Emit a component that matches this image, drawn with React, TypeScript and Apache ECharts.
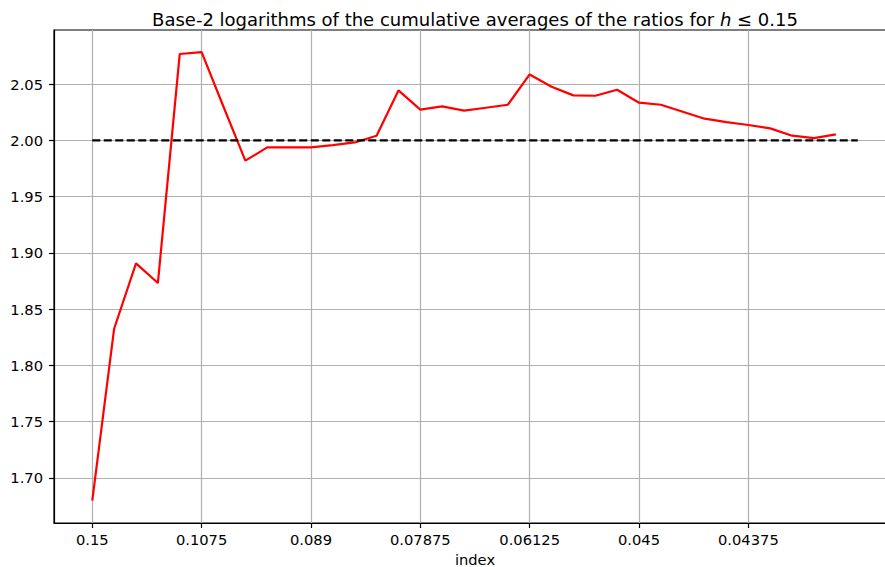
import React, { useEffect, useRef } from "react";
import * as echarts from "echarts";

const tickIndices = [0, 5, 10, 15, 20, 25, 30];
const tickLabels = ["0.15", "0.1075", "0.089", "0.07875", "0.06125", "0.045", "0.04375"];
const yTicks = [1.7, 1.75, 1.8, 1.85, 1.9, 1.95, 2.0, 2.05];

const logAverages = [
  1.6798, 1.8326, 1.8906, 1.8732, 2.0767, 2.0784, 2.0298, 1.9819, 1.9937, 1.9937,
  1.9937, 1.9958, 1.9981, 2.0041, 2.0443, 2.0272, 2.0301, 2.0263, 2.0289, 2.0316,
  2.0585, 2.0476, 2.0399, 2.0396, 2.0449, 2.0334, 2.0316, 2.0254, 2.0192, 2.0162,
  2.0136, 2.0106, 2.0041, 2.002, 2.0052,
];
const referenceLevel = 2.0;
const referenceEnd = 35;

const FONT = "DejaVu Sans";

export default function App() {
  const ref = useRef<HTMLDivElement>(null);
  useEffect(() => {
    if (!ref.current) return;
    const chart = echarts.init(ref.current, null, { renderer: "svg" });
    const labelMap: Record<number, string> = {};
    tickIndices.forEach((t, i) => (labelMap[t] = tickLabels[i]));
    chart.setOption({
      animation: false,
      backgroundColor: "#ffffff",
      title: {
        text: "{n|Base-2 logarithms of the cumulative averages of the ratios for }{i|h}{n| ≤ 0.15}",
        left: 470,
        textAlign: "center",
        top: 5,
        textStyle: {
          fontWeight: "normal",
          rich: {
            n: { fontFamily: FONT, fontSize: 18, color: "#000", fontWeight: "normal" },
            i: { fontFamily: FONT, fontSize: 18, color: "#000", fontStyle: "italic", fontWeight: "normal" },
          },
        },
      },
      grid: {
        left: 54,
        top: 30,
        bottom: 44,
        width: 842,
        show: true,
        borderColor: "#000",
        borderWidth: 1.2,
        containLabel: false,
        outerBoundsMode: "none",
      },
      xAxis: {
        type: "value",
        min: -1.75,
        max: 36.75,
        name: "index",
        nameLocation: "middle",
        nameGap: 27,
        nameTextStyle: { fontFamily: FONT, fontSize: 14.7, color: "#000" },
        axisLine: { show: true, onZero: false, lineStyle: { color: "#000", width: 1.2 } },
        axisTick: {
          show: true,
          length: 5,
          lineStyle: { color: "#000", width: 1.2 },
          customValues: tickIndices,
        },
        axisLabel: {
          fontFamily: FONT,
          fontSize: 14.7,
          color: "#000",
          margin: 9,
          customValues: tickIndices,
          formatter: (v: number) => labelMap[Math.round(v)] ?? "",
        },
        splitLine: { show: true, lineStyle: { color: "#b0b0b0", width: 1.2 } },
      },
      yAxis: {
        type: "value",
        min: 1.66,
        max: 2.098,
        axisLine: { show: true, onZero: false, lineStyle: { color: "#000", width: 1.2 } },
        axisTick: {
          show: true,
          length: 5,
          lineStyle: { color: "#000", width: 1.2 },
          customValues: yTicks,
        },
        axisLabel: {
          fontFamily: FONT,
          fontSize: 14.7,
          color: "#000",
          margin: 11,
          customValues: yTicks,
          formatter: (v: number) => v.toFixed(2),
        },
        splitLine: { show: true, lineStyle: { color: "#b0b0b0", width: 1.2 } },
      },
      series: [
        {
          type: "line",
          data: logAverages.map((v, i) => [i, v]),
          symbol: "none",
          lineStyle: { color: "#ff0000", width: 2.2 },
          z: 3,
        },
        {
          type: "line",
          data: [
            [0, referenceLevel],
            [referenceEnd, referenceLevel],
          ],
          symbol: "none",
          lineStyle: { color: "#000000", width: 2.2, type: [8, 3.5] },
          z: 4,
        },
      ],
    });
    return () => chart.dispose();
  }, []);
  return (
    <div
      ref={ref}
      style={{ position: "fixed", left: 0, top: 0, width: 885, height: 567 }}
    />
  );
}
